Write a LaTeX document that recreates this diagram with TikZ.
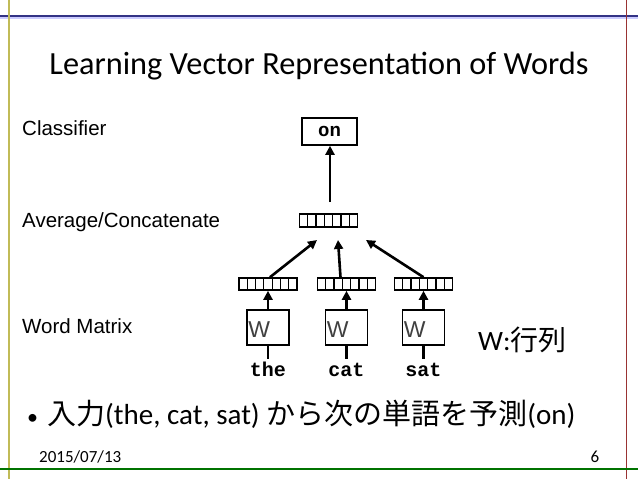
\documentclass[tikz,border=0pt]{standalone}
\usepackage{fontspec}
\setmainfont{Carlito}
\newfontfamily\arialfont{Liberation Sans}
\newfontfamily\courfont{Liberation Mono}
\newfontfamily\jpfont{Noto Sans CJK JP}
\usetikzlibrary{positioning,arrows.meta,calc}
\tikzset{
  vecbox/.style={draw, line width=1.6pt, minimum width=58pt, minimum height=12pt, inner sep=0pt,
    path picture={
      \foreach \k in {1,...,6}
        \draw[line width=1.2pt] ($(path picture bounding box.south west)!\k/7!(path picture bounding box.south east)$)
          -- ($(path picture bounding box.north west)!\k/7!(path picture bounding box.north east)$);
    }},
  wbox/.style={draw, line width=1.6pt, minimum width=42pt, minimum height=35pt, inner sep=0pt},
  wname/.style={anchor=base west, inner sep=0pt, text=black!75, font=\arialfont\fontsize{23}{23}\selectfont},
  wordlabel/.style={anchor=base, font=\courfont\bfseries\fontsize{20}{20}\selectfont, inner sep=0pt},
  layerlabel/.style={anchor=west, font=\arialfont\fontsize{20.5}{20.5}\selectfont, inner sep=0pt},
  netarrow/.style={-{Triangle[length=9pt, width=9pt]}, line width=2.6pt},
  netline/.style={line width=2.6pt},
}
\begin{document}
\begin{tikzpicture}[x=1pt, y=-1pt]
  \useasboundingbox (0,0) rectangle (638,479);
  % slide frame
  \draw[line width=2pt, blue!20] (0,17.5) -- (638,17.5);
  \draw[line width=1.4pt, blue!40!black!80] (0,16) -- (638,16);
  \draw[line width=1.4pt, olive!55] (9,0) -- (9,479);
  \draw[line width=1pt, red!50!black!80] (626,0) -- (626,479);
  \draw[line width=1.6pt, green!45!black] (0,469) -- (638,469);

  % title
  \node (title) at (319,66) {\fontsize{32.3}{32.3}\selectfont Learning Vector Representation of Words};

  % layer names
  \node[layerlabel] (lclass) at (22,128) {Classifier};
  \node[layerlabel] (lavg) at (22,222) {Average/Concatenate};
  \node[layerlabel] (lword) at (22,326) {Word Matrix};

  % network
  \node[draw, line width=1.6pt, minimum width=55pt, minimum height=27pt, inner sep=0pt,
    font=\courfont\bfseries\fontsize{19}{19}\selectfont] (on) at (329.5,131.5) {on};
  \node[vecbox, minimum height=13pt] (avg) at (328.5,220.5) {};
  \foreach \w/\x in {the/268, cat/346.5, sat/423.5} {
    \node[wbox] (w\w) at (\x,327.5) {};
    \node[wname] (n\w) at ($(w\w.west)+(2,9.5)$) {W};
    \node[vecbox] (v\w) at (\x,284) {};
    \node[wordlabel] (t\w) at (\x,376) {\w};
    \draw[netline] (w\w.south) -- ++(0,13);
    \draw[netarrow] (w\w.north) -- (v\w.south);
  }
  \coordinate (inthe) at (317,240);
  \coordinate (incat) at (338,240);
  \coordinate (insat) at (366,240);
  \draw[netarrow] ([xshift=2pt]vthe.north) -- (inthe);
  \draw[netarrow] ([xshift=-6pt]vcat.north) -- (incat);
  \draw[netarrow] (vsat.north) -- (insat);
  \draw[netarrow, shorten <=11pt] ([xshift=1.5pt]avg.north) -- ([xshift=0.5pt]on.south);

  \node[anchor=west, inner sep=0pt] (wnote) at (478,340) {\fontsize{28}{28}\selectfont W:{\jpfont 行列}};

  % bullet text
  \node[anchor=west, inner sep=0pt] (bullet) at (27,414)
    {\fontsize{29}{29}\selectfont {\fontsize{22}{22}\selectfont •}\hspace{9pt}{\jpfont 入力}(the, cat, sat)\ {\jpfont から次の単語を予測}(on)};

  % footer
  \node[anchor=west, inner sep=0pt] (date) at (39,457) {\fontsize{17}{17}\selectfont 2015/07/13};
  \node[inner sep=0pt] (page) at (595,457) {\fontsize{17}{17}\selectfont 6};
\end{tikzpicture}
\end{document}
